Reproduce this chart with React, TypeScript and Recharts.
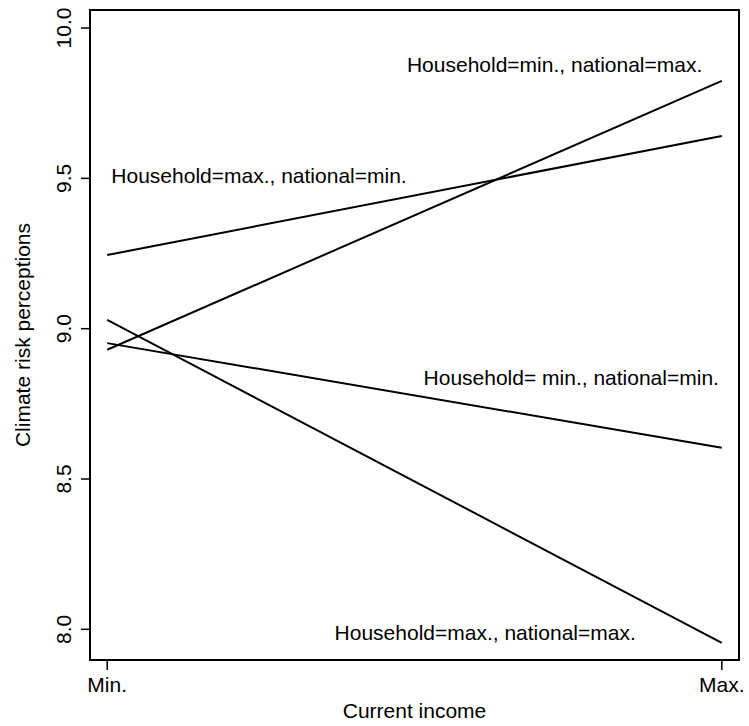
import {
  LineChart, Line, XAxis, YAxis, ReferenceArea, ReferenceDot
} from 'recharts';

// values (x: 0 = Min., 1 = Max.)
const incomeLevels = ['Min.', 'Max.'];
const hhMinNatMax = [8.93, 9.824];
const hhMaxNatMin = [9.245, 9.641];
const hhMinNatMin = [8.952, 8.604];
const hhMaxNatMax = [9.029, 7.955];
const yTicks = [8.0, 8.5, 9.0, 9.5, 10.0];

const noteText = [
  'Household=min., national=max.',
  'Household=max., national=min.',
  'Household= min., national=min.',
  'Household=max., national=max.',
];
const noteX = [0.728, 0.247, 0.755, 0.615];
const noteY = [9.877, 9.511, 8.836, 7.988];

const X_DOMAIN: [number, number] = [-0.028, 1.028];
const Y_DOMAIN: [number, number] = [7.898, 10.06];
const FONT = '"Liberation Sans", Arial, Helvetica, sans-serif';

const chartData = incomeLevels.map((_, i) => ({
  x: i,
  a: hhMinNatMax[i],
  b: hhMaxNatMin[i],
  c: hhMinNatMin[i],
  d: hhMaxNatMax[i],
}));

const YTick = (props: any) => {
  const { y, payload } = props;
  const bx = 71;
  return (
    <text
      x={bx}
      y={y}
      transform={`rotate(-90, ${bx}, ${y})`}
      textAnchor="middle"
      fontSize={21}
      fontFamily={FONT}
      fill="#000"
    >
      {Number(payload.value).toFixed(1)}
    </text>
  );
};

const XTick = (props: any) => {
  const { x, payload } = props;
  return (
    <text x={x} y={692} textAnchor="middle" fontSize={21} fontFamily={FONT} fill="#000">
      {incomeLevels[payload.value]}
    </text>
  );
};

export default function App() {
  return (
    <div style={{ position: 'absolute', left: 0, top: 0, background: '#fff' }}>
      <LineChart
        width={749}
        height={726}
        data={chartData}
        margin={{ top: 10, right: 10, left: 0, bottom: 0 }}
      >
        <XAxis
          dataKey="x"
          type="number"
          domain={X_DOMAIN}
          ticks={[0, 1]}
          allowDataOverflow
          height={66}
          axisLine={false}
          tickSize={10}
          tickLine={{ stroke: '#000', strokeWidth: 1.5 }}
          tick={<XTick />}
          label={{
            value: 'Current income',
            position: 'insideBottom',
            offset: 8,
            fontSize: 21,
            fontFamily: FONT,
            fill: '#000',
          }}
        />
        <YAxis
          type="number"
          domain={Y_DOMAIN}
          ticks={yTicks}
          allowDataOverflow
          width={90}
          axisLine={false}
          tickSize={9}
          tickLine={{ stroke: '#000', strokeWidth: 1.5 }}
          tick={<YTick />}
          label={{
            value: 'Climate risk perceptions',
            angle: -90,
            position: 'center',
            dx: -22,
            fontSize: 21,
            fontFamily: FONT,
            fill: '#000',
          }}
        />
        <ReferenceArea
          x1={X_DOMAIN[0]}
          x2={X_DOMAIN[1]}
          y1={Y_DOMAIN[0]}
          y2={Y_DOMAIN[1]}
          fill="none"
          fillOpacity={0}
          stroke="#000"
          strokeWidth={2}
          ifOverflow="visible"
        />
        <Line type="linear" dataKey="a" stroke="#000" strokeWidth={2} dot={false} isAnimationActive={false} />
        <Line type="linear" dataKey="b" stroke="#000" strokeWidth={2} dot={false} isAnimationActive={false} />
        <Line type="linear" dataKey="c" stroke="#000" strokeWidth={2} dot={false} isAnimationActive={false} />
        <Line type="linear" dataKey="d" stroke="#000" strokeWidth={2} dot={false} isAnimationActive={false} />
        {noteText.map((t, i) => (
          <ReferenceDot
            key={t}
            x={noteX[i]}
            y={noteY[i]}
            r={0}
            fill="none"
            stroke="none"
            label={{
              value: t,
              position: 'center',
              fontSize: 21,
              fontFamily: FONT,
              fill: '#000',
            }}
          />
        ))}
      </LineChart>
    </div>
  );
}
